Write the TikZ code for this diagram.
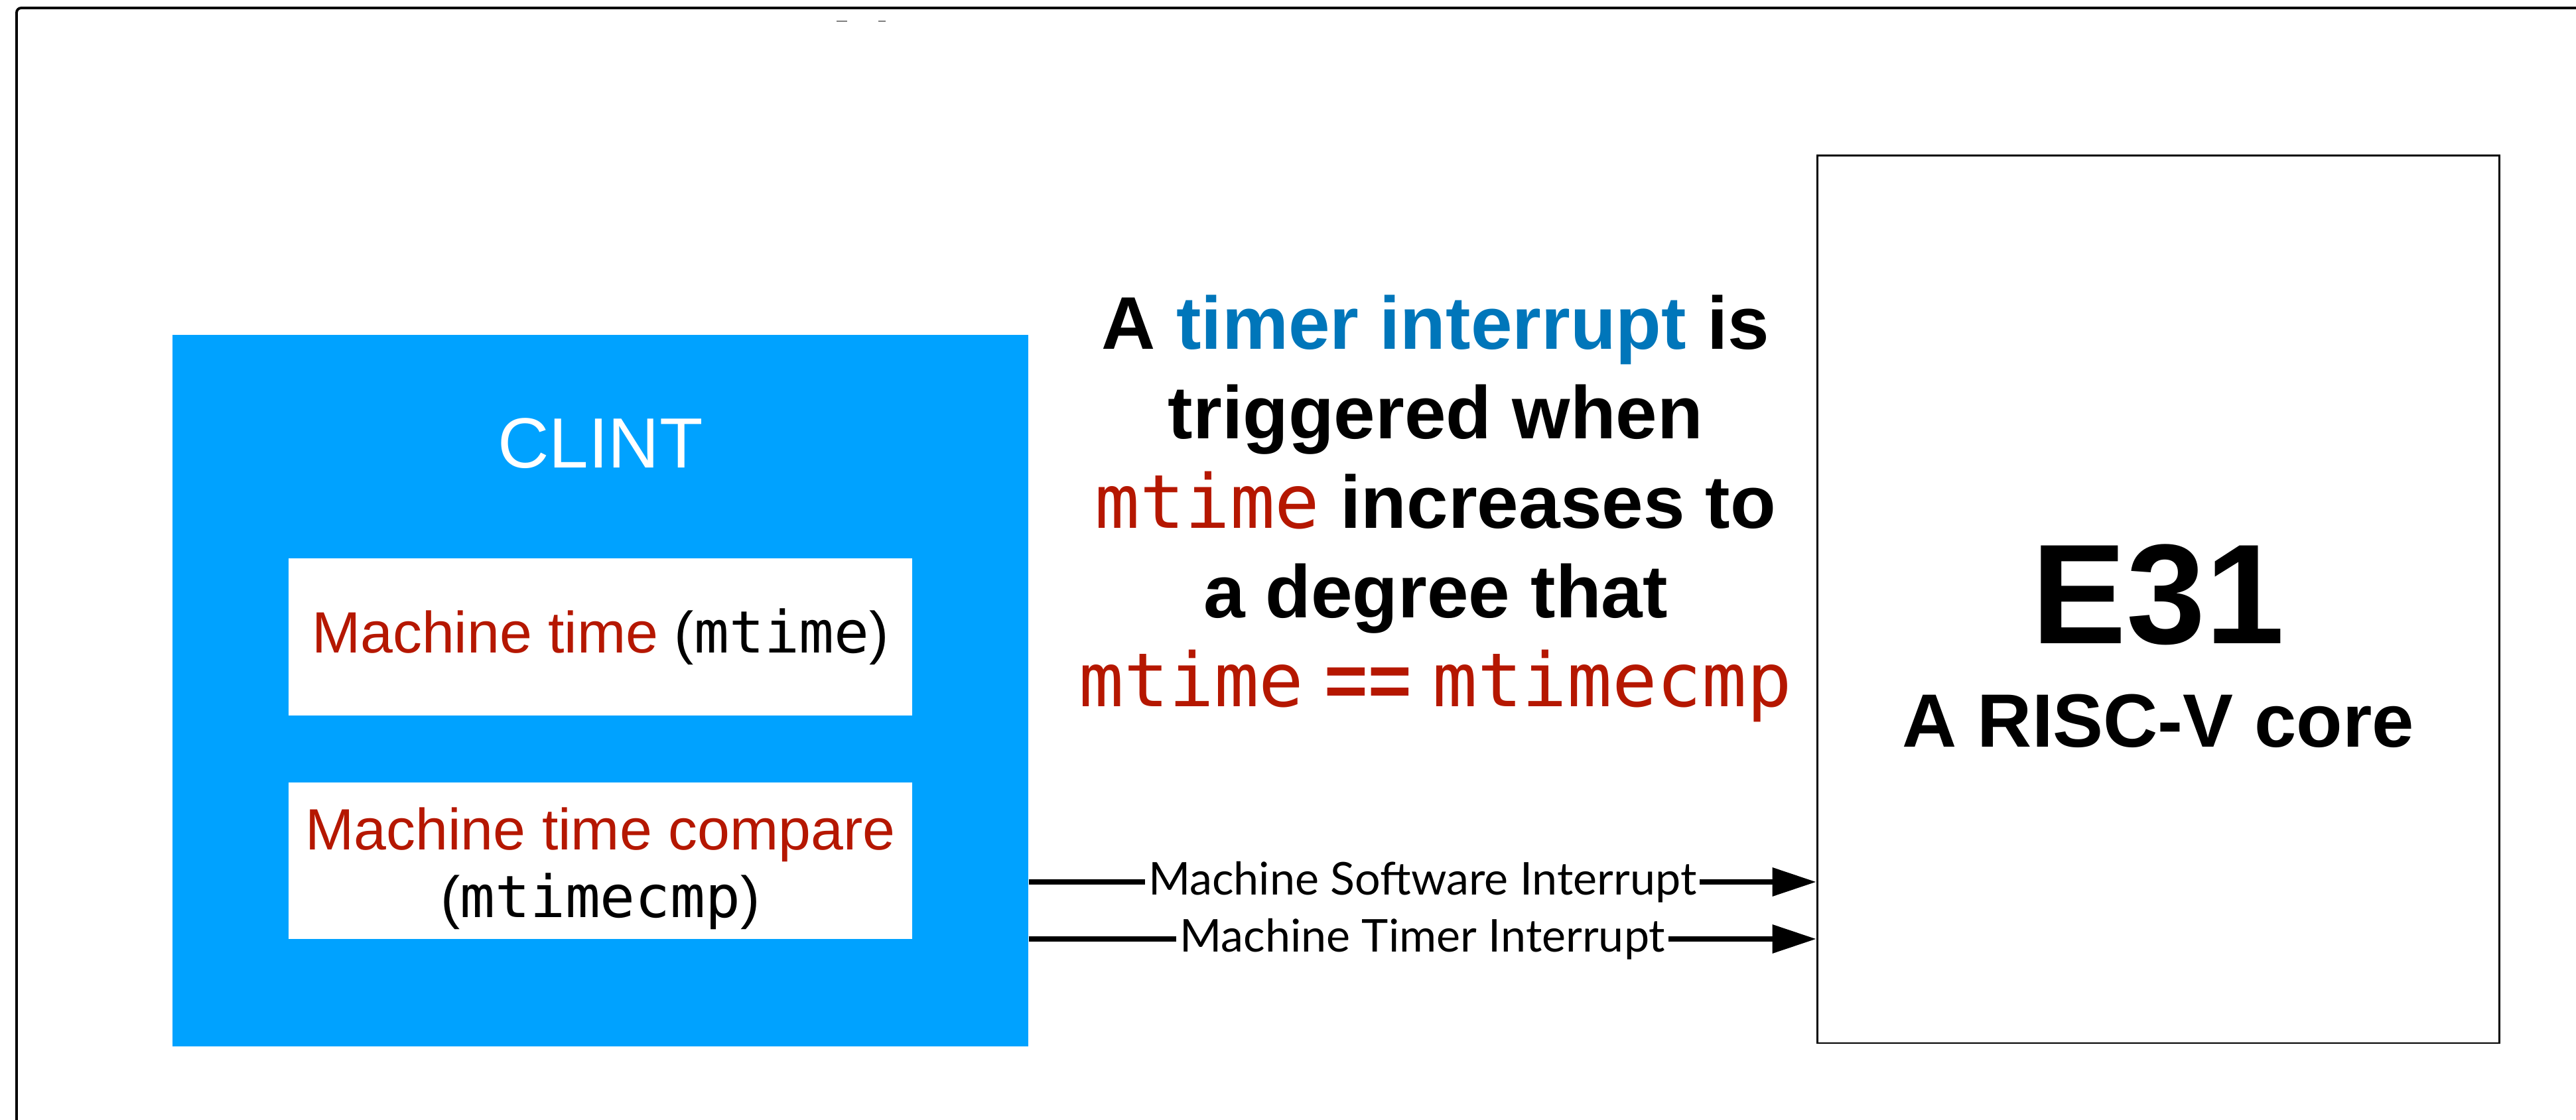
\documentclass[tikz,border=0pt]{standalone}
\usepackage{fontspec}
\setmainfont{Liberation Sans}
\setmonofont{DejaVu Sans Mono}
\newfontfamily\wirefont{Lato}
\usetikzlibrary{arrows.meta}
\definecolor{clintblue}{HTML}{00A2FF}
\definecolor{regred}{HTML}{B51700}
\definecolor{hiblue}{HTML}{0076BA}
\newcommand{\regname}[1]{\textcolor{regred}{#1}}

\begin{document}
\begin{tikzpicture}[
	regbox/.style={shape=rectangle, fill=white, minimum width=9.4cm, align=center, inner sep=0pt, font=\fontsize{25}{29}\selectfont},
	wire/.style={line width=2pt, -{Triangle[length=0.66cm, width=0.42cm]}},
	wirelabel/.style={fill=white, inner xsep=0.05cm, inner ysep=0pt, font=\wirefont\fontsize{19.4}{22}\selectfont}
]
	% Paths, nodes and wires:
	\useasboundingbox (0, 0) rectangle (38.83, 16.89);
	\draw[line width=1.1pt, rounded corners=2pt] (0.25, -0.5) -- (0.25, 16.77) -- (39.5, 16.77);
	\draw[gray, line width=0.5pt] (12.61, 16.57) -- (12.77, 16.57) (13.24, 16.57) -- (13.35, 16.57);
	\node[shape=rectangle, fill=clintblue, minimum width=12.9cm, minimum height=10.73cm] (clint) at (9.05, 6.475){};
	\node[anchor=base, text=white, font=\fontsize{30.5}{36}\selectfont] (clintname) at (9.05, 9.83){CLINT};
	\node[regbox, minimum height=2.37cm] (mtime) at (9.05, 7.285){\regname{Machine time} (\texttt{mtime})};
	\node[regbox, minimum height=2.36cm] (mtimecmp) at (9.05, 3.91){\rule{0pt}{0.88cm}\regname{Machine time compare}\\(\texttt{mtimecmp})};
	\node[shape=rectangle, draw, line width=0.85pt, minimum width=10.28cm, minimum height=13.38cm] (core) at (32.53, 7.85){};
	\node[anchor=base, font=\bfseries\fontsize{61}{70}\selectfont] (corename) at (32.53, 7.18){E31};
	\node[anchor=base, font=\bfseries\fontsize{32.4}{36}\selectfont] (coredesc) at (32.53, 5.62){A RISC-V core};
	\node[align=center, font=\bfseries\fontsize{32}{38.4}\selectfont] (rule) at (21.64, 9.22){A \textcolor{hiblue}{timer interrupt} is\\triggered when\\\regname{\mdseries\texttt{mtime}} increases to\\a degree that\\\regname{\mdseries\texttt{mtime} \bfseries == \mdseries\texttt{mtimecmp}}};
	\coordinate (msip) at (0, 3.59);
	\coordinate (mtip) at (0, 2.73);
	\draw[wire] (msip -| clint.east) -- node[wirelabel]{Machine Software Interrupt} (msip -| core.west);
	\draw[wire] (mtip -| clint.east) -- node[wirelabel]{Machine Timer Interrupt} (mtip -| core.west);
\end{tikzpicture}
\end{document}
